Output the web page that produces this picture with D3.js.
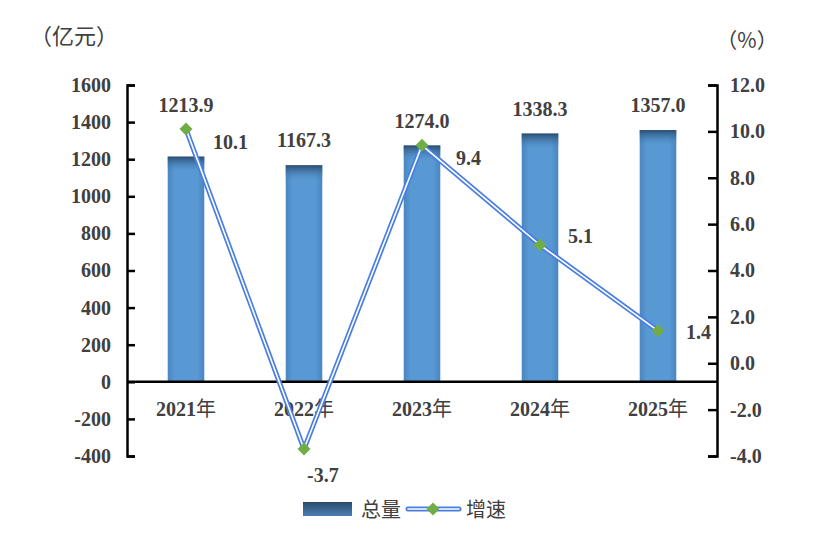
<!DOCTYPE html>
<html>
<head>
  <meta charset="utf-8">
  <title>总量与增速</title>
  <script src="https://d3js.org/d3.v7.min.js"></script>
  <style>
    body { margin: 0; background: #fff; }
    svg text {
      font-family: "Times New Roman", "Liberation Serif", "Noto Sans CJK SC", serif;
      font-weight: bold;
      fill: #404040;
    }
    .cjk { font-family: "Noto Sans CJK SC", "Liberation Serif", sans-serif !important; font-weight: normal !important; }
  </style>
</head>
<body>
  <svg id="chart" width="839" height="538"></svg>

  <script>
    // data
    const years = ["2021年", "2022年", "2023年", "2024年", "2025年"];
    const totals = [1213.9, 1167.3, 1274.0, 1338.3, 1357.0];
    const rates = [10.1, -3.7, 9.4, 5.1, 1.4];
    const leftTicks = [-400, -200, 0, 200, 400, 600, 800, 1000, 1200, 1400, 1600];
    const rightTicks = [-4, -2, 0, 2, 4, 6, 8, 10, 12];

    // layout
    const plotLeft = 127, plotRight = 717, plotTop = 85, plotBottom = 456;
    // label shift for the rate labels, relative to each marker
    const rateLabelShift = [[27, 20], [3, 33], [34, 20], [28, -2], [28, 8]];

    const svg = d3.select("#chart");
    const defs = svg.append("defs");

    const side = defs.append("linearGradient").attr("id", "barSide")
      .attr("x1", "0").attr("x2", "1").attr("y1", "0").attr("y2", "0");
    side.append("stop").attr("offset", "0").attr("stop-color", "#4a86c0");
    side.append("stop").attr("offset", "0.2").attr("stop-color", "#5899d4");
    side.append("stop").attr("offset", "0.8").attr("stop-color", "#5899d4");
    side.append("stop").attr("offset", "1").attr("stop-color", "#4a86c0");

    const topShade = defs.append("linearGradient").attr("id", "barTop")
      .attr("x1", "0").attr("x2", "0").attr("y1", "0").attr("y2", "1");
    topShade.append("stop").attr("offset", "0").attr("stop-color", "#2c4d6e").attr("stop-opacity", 1);
    topShade.append("stop").attr("offset", "1").attr("stop-color", "#4a86c0").attr("stop-opacity", 0);

    const legendFill = defs.append("linearGradient").attr("id", "legFill")
      .attr("x1", "0").attr("x2", "0").attr("y1", "0").attr("y2", "1");
    legendFill.append("stop").attr("offset", "0").attr("stop-color", "#2b4a6a");
    legendFill.append("stop").attr("offset", "1").attr("stop-color", "#4a7fb5");

    // scales
    const x = d3.scaleBand().domain(years).range([plotLeft, plotRight]).paddingInner(0.69).paddingOuter(0.345);
    const yL = d3.scaleLinear().domain([-400, 1600]).range([plotBottom, plotTop]);
    const yR = d3.scaleLinear().domain([-4, 12]).range([plotBottom, plotTop]);
    const cx = d => x(d) + x.bandwidth() / 2;

    // bars
    const bars = svg.append("g");
    bars.selectAll("rect.base").data(totals).join("rect")
      .attr("class", "base")
      .attr("x", (d, i) => x(years[i]))
      .attr("y", d => yL(d))
      .attr("width", x.bandwidth())
      .attr("height", d => yL(0) - yL(d))
      .attr("fill", "url(#barSide)");
    bars.selectAll("rect.shade").data(totals).join("rect")
      .attr("class", "shade")
      .attr("x", (d, i) => x(years[i]))
      .attr("y", d => yL(d))
      .attr("width", x.bandwidth())
      .attr("height", 15)
      .attr("fill", "url(#barTop)");

    // left axis
    const axL = svg.append("g").attr("transform", `translate(${plotLeft},0)`)
      .call(d3.axisLeft(yL).tickValues(leftTicks).tickSize(-8).tickPadding(16).tickFormat(d3.format("d")));
    axL.select(".domain").attr("stroke", "#000").attr("stroke-width", 2.5);
    axL.selectAll(".tick line").attr("stroke", "#000").attr("stroke-width", 2.5);
    axL.selectAll(".tick text").attr("font-size", 20).attr("fill", "#404040")
      .text(d => d < 0 ? "-" + Math.abs(d) : d);

    // right axis
    const axR = svg.append("g").attr("transform", `translate(${plotRight},0)`)
      .call(d3.axisRight(yR).tickValues(rightTicks).tickSize(-9).tickPadding(13).tickFormat(d3.format(".1f")));
    axR.select(".domain").attr("stroke", "#000").attr("stroke-width", 2.5);
    axR.selectAll(".tick line").attr("stroke", "#000").attr("stroke-width", 2.5);
    axR.selectAll(".tick text").attr("font-size", 20).attr("fill", "#404040")
      .text(d => d < 0 ? "-" + d3.format(".1f")(Math.abs(d)) : d3.format(".1f")(d));

    // zero line / category axis
    svg.append("line").attr("x1", plotLeft).attr("x2", plotRight)
      .attr("y1", yL(0)).attr("y2", yL(0))
      .attr("stroke", "#000").attr("stroke-width", 2.5);

    svg.append("g").selectAll("text").data(years).join("text")
      .attr("x", d => cx(d))
      .attr("y", yL(0) + 34)
      .attr("text-anchor", "middle")
      .attr("font-size", 20)
      .text(d => d.replace("年", ""))
      .append("tspan").attr("class", "cjk").text("年");

    // rate line (double line look)
    const line = d3.line().x((d, i) => cx(years[i])).y(d => yR(d));
    svg.append("path").datum(rates).attr("d", line)
      .attr("fill", "none").attr("stroke", "#4a7ee0").attr("stroke-width", 5).attr("stroke-linejoin", "round");
    svg.append("path").datum(rates).attr("d", line)
      .attr("fill", "none").attr("stroke", "#fff").attr("stroke-width", 1.6).attr("stroke-linejoin", "round");

    const diamond = d3.symbol().type(d3.symbolSquare).size(85);
    svg.append("g").selectAll("path").data(rates).join("path")
      .attr("d", diamond)
      .attr("transform", (d, i) => `translate(${cx(years[i])},${yR(d)}) rotate(45)`)
      .attr("fill", "#70ad47");

    // total labels
    svg.append("g").selectAll("text").data(totals).join("text")
      .attr("x", (d, i) => cx(years[i]))
      .attr("y", (d, i) => {
        const my = yR(rates[i]), by = yL(d);
        return (my <= by && by - my < 40) ? my - 17 : by - 18;
      })
      .attr("text-anchor", "middle")
      .attr("font-size", 20)
      .text(d => d.toFixed(1));

    // rate labels
    svg.append("g").selectAll("text").data(rates).join("text")
      .attr("x", (d, i) => cx(years[i]) + rateLabelShift[i][0])
      .attr("y", (d, i) => yR(d) + rateLabelShift[i][1])
      .attr("font-size", 20)
      .text(d => d.toFixed(1));

    // unit titles
    svg.append("text").attr("class", "cjk").attr("x", 30).attr("y", 44)
      .attr("font-size", 22).text("（亿元）");
    svg.append("text").attr("class", "cjk").attr("x", 747).attr("y", 48)
      .attr("text-anchor", "middle").attr("font-size", 21).text("（%）");

    // legend
    const leg = svg.append("g");
    leg.append("rect").attr("x", 303).attr("y", 502).attr("width", 49).attr("height", 14)
      .attr("fill", "url(#legFill)");
    leg.append("text").attr("class", "cjk").attr("x", 361).attr("y", 517).attr("font-size", 20).text("总量");
    leg.append("line").attr("x1", 408).attr("x2", 459).attr("y1", 509).attr("y2", 509)
      .attr("stroke", "#4a7ee0").attr("stroke-width", 5).attr("stroke-linecap", "round");
    leg.append("line").attr("x1", 408).attr("x2", 459).attr("y1", 509).attr("y2", 509)
      .attr("stroke", "#fff").attr("stroke-width", 1.6).attr("stroke-linecap", "round");
    leg.append("path").attr("d", diamond).attr("transform", "translate(433,509) rotate(45)").attr("fill", "#70ad47");
    leg.append("text").attr("class", "cjk").attr("x", 466).attr("y", 517).attr("font-size", 20).text("增速");
  </script>
</body>
</html>
